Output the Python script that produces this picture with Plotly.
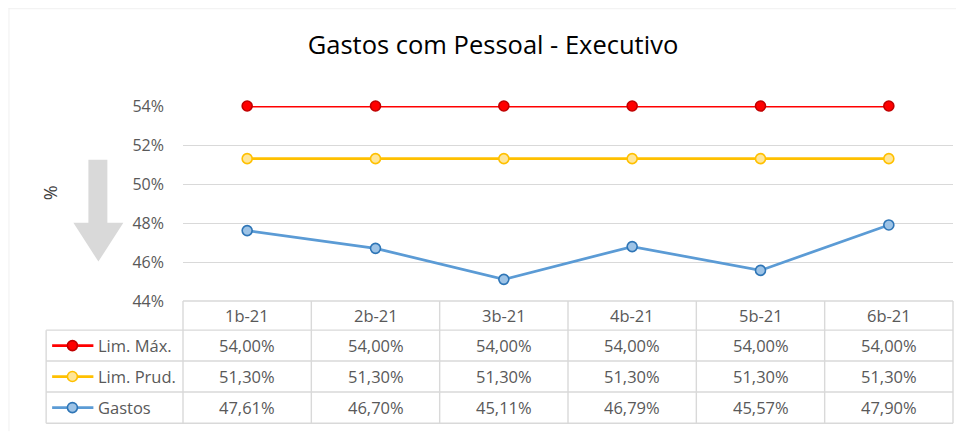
import plotly.graph_objects as go

categories = ["1b-21", "2b-21", "3b-21", "4b-21", "5b-21", "6b-21"]
lim_max = [54.00, 54.00, 54.00, 54.00, 54.00, 54.00]
lim_prud = [51.30, 51.30, 51.30, 51.30, 51.30, 51.30]
gastos = [47.61, 46.70, 45.11, 46.79, 45.57, 47.90]
series_names = ["Lim. Máx.", "Lim. Prud.", "Gastos"]
y_ticks = [44, 46, 48, 50, 52, 54]

# page has an 8px body margin: work in window pixels, convert to figure pixels
OX, OY = 8, 8
W, H = 964 - OX, 432 - OY
L, R, T, B = 182.7, 953.5, 106.0, 301.5  # plot area in window pixels
FONT = "Open Sans"


def px_x(px):
    return (px - L) / (R - L)


def px_y(py):
    return (B - py) / (B - T)


styles = [
    dict(line="#ff0000", fill="#ff0000", edge="#c00000"),
    dict(line="#ffc000", fill="#ffe699", edge="#ffc000"),
    dict(line="#5b9bd5", fill="#9dc3e6", edge="#2e75b6"),
]
series = [lim_max, lim_prud, gastos]

fig = go.Figure()
for name, vals, st in zip(series_names, series, styles):
    fig.add_trace(go.Scatter(
        x=categories, y=[v / 100 for v in vals], name=name, mode="lines+markers",
        line=dict(color=st["line"], width=2.75),
        marker=dict(size=10, color=st["fill"], line=dict(color=st["edge"], width=1.6)),
        cliponaxis=False, showlegend=False,
    ))

shapes = []
annotations = []
grid_col = "#d9d9d9"

# faint chart border (top and left)
shapes.append(dict(type="line", xref="paper", yref="paper", x0=px_x(8), x1=px_x(964), y0=px_y(8.5), y1=px_y(8.5),
                   line=dict(color="#f0f0f0", width=1)))
shapes.append(dict(type="line", xref="paper", yref="paper", x0=px_x(8.5), x1=px_x(8.5), y0=px_y(8), y1=px_y(432),
                   line=dict(color="#f0f0f0", width=1)))

# data table grid
col_edges = [L + i * (R - L) / 6 for i in range(7)]
row_edges = [301.5, 330.7, 361.7, 392.7, 424.0]
tab_left = 45.7
for i, ry in enumerate(row_edges):
    x0 = L if i == 0 else tab_left
    shapes.append(dict(type="line", xref="paper", yref="paper", x0=px_x(x0), x1=px_x(R),
                       y0=px_y(ry), y1=px_y(ry), line=dict(color=grid_col, width=1.4)))
for cx in col_edges:
    shapes.append(dict(type="line", xref="paper", yref="paper", x0=px_x(cx), x1=px_x(cx),
                       y0=px_y(row_edges[0]), y1=px_y(row_edges[-1]), line=dict(color=grid_col, width=1.4)))
shapes.append(dict(type="line", xref="paper", yref="paper", x0=px_x(tab_left), x1=px_x(tab_left),
                   y0=px_y(row_edges[1]), y1=px_y(row_edges[-1]), line=dict(color=grid_col, width=1.4)))

txt_col = "#595959"
TS = 16.5
hy = (row_edges[0] + row_edges[1]) / 2
for c in categories:
    annotations.append(dict(x=c, xref="x", y=px_y(hy), yref="paper", text=c, showarrow=False,
                            font=dict(family=FONT, size=TS, color=txt_col), xanchor="center", yanchor="middle"))
for r, (name, vals, st) in enumerate(zip(series_names, series, styles)):
    ry = (row_edges[r + 1] + row_edges[r + 2]) / 2
    for c, v in zip(categories, vals):
        annotations.append(dict(x=c, xref="x", y=px_y(ry), yref="paper",
                                text=f"{v:.2f}".replace(".", ",") + "%", showarrow=False,
                                font=dict(family=FONT, size=TS, color=txt_col), xanchor="center", yanchor="middle"))
    shapes.append(dict(type="line", xref="paper", yref="paper", x0=px_x(51.7), x1=px_x(93),
                       y0=px_y(ry), y1=px_y(ry), line=dict(color=st["line"], width=2.75)))
    shapes.append(dict(type="circle", xref="paper", yref="paper", xsizemode="pixel", ysizemode="pixel",
                       xanchor=px_x(72), yanchor=px_y(ry), x0=-5, x1=5, y0=-5, y1=5,
                       fillcolor=st["fill"], line=dict(color=st["edge"], width=1.6)))
    annotations.append(dict(x=px_x(96), xref="paper", y=px_y(ry), yref="paper", text=name, showarrow=False,
                            font=dict(family=FONT, size=TS, color=txt_col), xanchor="left", yanchor="middle"))

annotations.append(dict(x=px_x(49), xref="paper", y=px_y(193), yref="paper", text="%", showarrow=False,
                        textangle=-90, font=dict(family=FONT, size=18, color="#404040"),
                        xanchor="center", yanchor="middle"))

pts = [(88, 160), (107, 160), (107, 223), (123, 223), (98, 262), (73, 223), (88, 223)]
path = "M " + " L ".join(f"{px_x(x)},{px_y(y)}" for x, y in pts) + " Z"
shapes.append(dict(type="path", xref="paper", yref="paper", path=path, fillcolor="#d9d9d9",
                   line=dict(width=0), layer="below"))

fig.update_layout(
    width=W, height=H,
    margin=dict(l=L - OX, r=964 - R, t=T - OY, b=432 - B, pad=0),
    paper_bgcolor="white", plot_bgcolor="white",
    title=dict(text="Gastos com Pessoal - Executivo", x=px_x(493), xref="paper", xanchor="center",
               y=1 - (45 - OY) / H, yanchor="middle", font=dict(family=FONT, size=25.5, color="#000000")),
    xaxis=dict(range=[-0.5, 5.5], showticklabels=False, showgrid=False, zeroline=False,
               showline=False, ticks=""),
    yaxis=dict(range=[0.44, 0.54], tickvals=[v / 100 for v in y_ticks],
               ticktext=[f"{v}%" for v in y_ticks], showgrid=True, gridcolor=grid_col, gridwidth=1.4,
               zeroline=False, showline=False, ticks="", ticklabelstandoff=18,
               tickfont=dict(family=FONT, size=16, color=txt_col)),
    shapes=shapes, annotations=annotations,
)

fig.write_html("out.html")
